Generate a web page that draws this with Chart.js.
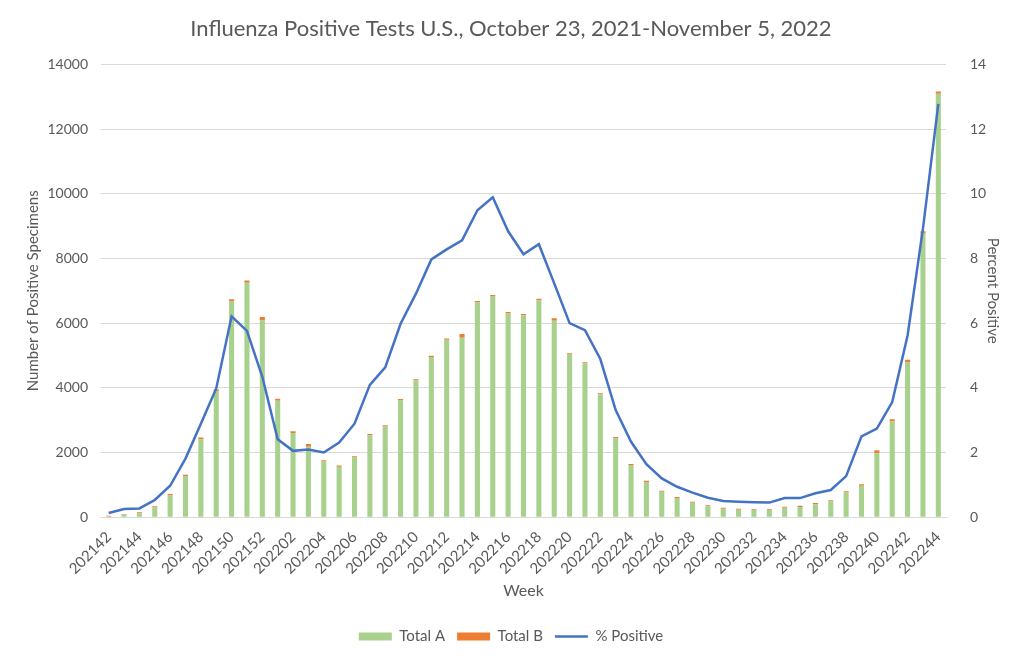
<!DOCTYPE html>
<html lang="en">
<head>
  <meta charset="UTF-8">
  <title>Influenza Positive Tests U.S.</title>
  <script src="https://cdn.jsdelivr.net/npm/chart.js"></script>
  <style>
    body {
      margin: 0;
      background-color: white;
    }

    .chart-box {
      position: relative;
      width: 1024px;
      height: 662px;
    }
  </style>
</head>
<body>
  <div class="chart-box">
    <canvas id="chart"></canvas>
  </div>
  <script>
    const weeks = [
      '202142', '202143', '202144', '202145', '202146', '202147', '202148', '202149', '202150', '202151', '202152',
      '202201', '202202', '202203', '202204', '202205', '202206', '202207', '202208', '202209', '202210',
      '202211', '202212', '202213', '202214', '202215', '202216', '202217', '202218', '202219', '202220',
      '202221', '202222', '202223', '202224', '202225', '202226', '202227', '202228', '202229', '202230',
      '202231', '202232', '202233', '202234', '202235', '202236', '202237', '202238', '202239', '202240',
      '202241', '202242', '202243', '202244'
    ];

    const totalA = [
      20, 80, 120, 300, 670, 1265, 2410, 3900, 6670, 7250, 6080,
      3600, 2600, 2180, 1720, 1560, 1845, 2530, 2800, 3610, 4225,
      4950, 5485, 5550, 6645, 6840, 6300, 6240, 6700, 6070, 5045,
      4760, 3800, 2440, 1610, 1090, 785, 590, 445, 340, 260,
      232, 220, 222, 292, 318, 400, 490, 760, 975, 1980,
      2960, 4780, 8770, 13090
    ];

    const totalB = [
      25, 20, 30, 35, 45, 45, 55, 50, 65, 65, 110,
      60, 55, 80, 40, 35, 40, 45, 45, 40, 40,
      40, 40, 115, 40, 30, 45, 45, 50, 80, 25,
      30, 35, 35, 30, 35, 30, 30, 30, 30, 30,
      25, 25, 25, 30, 32, 38, 35, 45, 40, 90,
      70, 90, 70, 75
    ];

    const pctPositive = [
      0.13, 0.25, 0.27, 0.53, 0.97, 1.81, 2.89, 3.98, 6.21, 5.76, 4.34,
      2.41, 2.05, 2.09, 2.0, 2.31, 2.89, 4.09, 4.63, 5.98, 6.91,
      7.97, 8.28, 8.56, 9.49, 9.89, 8.84, 8.13, 8.44, 7.23, 6.0,
      5.78, 4.89, 3.31, 2.33, 1.64, 1.2, 0.94, 0.76, 0.6, 0.5,
      0.48, 0.46, 0.45, 0.59, 0.59, 0.74, 0.84, 1.27, 2.5, 2.74,
      3.56, 5.62, 8.92, 12.78
    ];

    const textColor = '#595959';
    const fontName = 'Lato, "Open Sans", sans-serif';

    new Chart(document.getElementById('chart'), {
      data: {
        labels: weeks,
        datasets: [
          {
            type: 'bar',
            label: 'Total A',
            data: totalA,
            backgroundColor: '#A9D18E',
            yAxisID: 'y',
            order: 1,
            barPercentage: 0.33,
            categoryPercentage: 1
          },
          {
            type: 'bar',
            label: 'Total B',
            data: totalB,
            backgroundColor: '#ED7D31',
            yAxisID: 'y',
            order: 1,
            barPercentage: 0.33,
            categoryPercentage: 1
          },
          {
            type: 'line',
            label: '% Positive',
            data: pctPositive,
            borderColor: '#4472C4',
            backgroundColor: '#4472C4',
            borderWidth: 2.5,
            pointRadius: 0,
            tension: 0,
            yAxisID: 'y1',
            order: 0
          }
        ]
      },
      options: {
        responsive: true,
        maintainAspectRatio: false,
        animation: false,
        layout: { padding: { left: 20, right: 22, top: 12, bottom: 8 } },
        plugins: {
          title: {
            display: true,
            text: 'Influenza Positive Tests U.S., October 23, 2021-November 5, 2022',
            color: textColor,
            font: { family: fontName, size: 22, weight: 'normal' },
            padding: { top: 4, bottom: 22 }
          },
          legend: {
            position: 'bottom',
            labels: {
              color: textColor,
              font: { family: fontName, size: 15 },
              usePointStyle: true,
              pointStyleWidth: 33,
              boxHeight: 8,
              padding: 12,
              sort: (a, b) => a.datasetIndex - b.datasetIndex,
              generateLabels: (chart) => {
                const items = Chart.defaults.plugins.legend.labels.generateLabels(chart);
                items.forEach((it) => {
                  it.pointStyle = it.datasetIndex === 2 ? 'line' : 'rect';
                  it.lineWidth = it.datasetIndex === 2 ? 2.5 : 0;
                });
                return items;
              }
            }
          },
          tooltip: { enabled: false }
        },
        scales: {
          x: {
            stacked: true,
            grid: { display: false },
            border: { color: '#d9d9d9' },
            ticks: {
              color: textColor,
              font: { family: fontName, size: 15 },
              autoSkip: false,
              maxRotation: 45,
              minRotation: 45,
              callback: function (value, index) {
                return index % 2 === 0 ? weeks[index] : '';
              }
            },
            title: {
              display: true,
              text: 'Week',
              color: textColor,
              font: { family: fontName, size: 16 },
              padding: { top: 0, bottom: 17 }
            }
          },
          y: {
            stacked: true,
            position: 'left',
            min: 0,
            max: 14000,
            afterFit: (scale) => { scale.width = 81; },
            ticks: {
              stepSize: 2000,
              color: textColor,
              font: { family: fontName, size: 14 },
              padding: 13,
              callback: (value) => String(value)
            },
            grid: { color: '#d9d9d9', drawTicks: false },
            border: { display: false },
            title: {
              display: true,
              text: 'Number of Positive Specimens',
              color: textColor,
              font: { family: fontName, size: 15 }
            }
          },
          y1: {
            stacked: false,
            position: 'right',
            min: 0,
            max: 14,
            afterFit: (scale) => { scale.width = 56; },
            ticks: {
              stepSize: 2,
              color: textColor,
              font: { family: fontName, size: 14 },
              padding: 16
            },
            grid: { display: false },
            border: { display: false },
            title: {
              display: true,
              text: 'Percent Positive',
              color: textColor,
              font: { family: fontName, size: 15 },
              padding: 0
            }
          }
        }
      }
    });
  </script>
</body>
</html>
